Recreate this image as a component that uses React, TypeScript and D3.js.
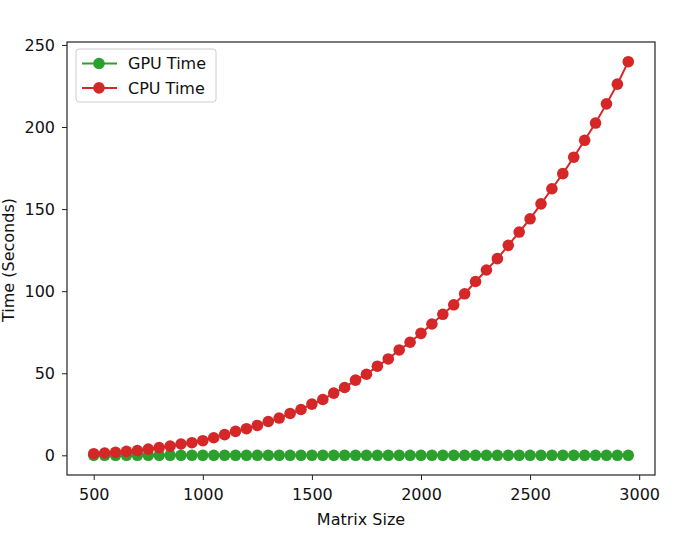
import React, { useEffect, useRef } from 'react';
import * as d3 from 'd3';

// matrix sizes 500..2950
const sizes = [
  500, 550, 600, 650, 700, 750, 800, 850, 900, 950,
  1000, 1050, 1100, 1150, 1200, 1250, 1300, 1350, 1400, 1450,
  1500, 1550, 1600, 1650, 1700, 1750, 1800, 1850, 1900, 1950,
  2000, 2050, 2100, 2150, 2200, 2250, 2300, 2350, 2400, 2450,
  2500, 2550, 2600, 2650, 2700, 2750, 2800, 2850, 2900, 2950,
];

const cpuTime = [
  1.0, 1.4, 1.8, 2.4, 2.9, 3.8, 4.7, 5.6, 6.9, 7.7,
  8.9, 10.7, 12.6, 14.6, 16.2, 18.2, 20.6, 22.7, 25.5, 27.9,
  31.2, 34.0, 37.9, 41.3, 45.8, 49.4, 54.3, 58.7, 64.2, 68.9,
  74.3, 80.0, 85.9, 91.7, 98.4, 105.9, 112.9, 119.8, 127.9, 136.0,
  144.1, 153.2, 162.4, 171.6, 181.6, 191.9, 202.4, 214.1, 226.1, 239.8,
];

const gpuTime = [
  0.02, 0.02, 0.02, 0.02, 0.02, 0.02, 0.02, 0.02, 0.02, 0.02,
  0.02, 0.02, 0.02, 0.02, 0.02, 0.02, 0.02, 0.02, 0.02, 0.02,
  0.02, 0.02, 0.02, 0.02, 0.02, 0.02, 0.02, 0.02, 0.02, 0.02,
  0.02, 0.02, 0.02, 0.02, 0.02, 0.02, 0.02, 0.02, 0.02, 0.02,
  0.02, 0.02, 0.02, 0.02, 0.02, 0.02, 0.02, 0.02, 0.02, 0.02,
];

const xTicks = [500, 1000, 1500, 2000, 2500, 3000];
const yTicks = [0, 50, 100, 150, 200, 250];

const series = [
  { name: 'GPU Time', values: gpuTime, color: '#2ca02c' },
  { name: 'CPU Time', values: cpuTime, color: '#d62728' },
];

const App = () => {
  const svgRef = useRef<SVGSVGElement>(null);

  useEffect(() => {
    const w = 680, h = 550;
    const left = 67, right = 655, top = 42, bottom = 475;
    const font = 'DejaVu Sans, sans-serif';
    const fs = '16px';

    const svg = d3.select(svgRef.current)
      .attr('width', w)
      .attr('height', h)
      .style('position', 'absolute')
      .style('left', 0)
      .style('top', 0)
      .style('background', '#fff');
    svg.selectAll('*').remove();

    // matplotlib-ish 5% margins
    const xSpan = sizes[sizes.length - 1] - sizes[0];
    const x = d3.scaleLinear()
      .domain([sizes[0] - xSpan * 0.05, sizes[sizes.length - 1] + xSpan * 0.05])
      .range([left, right]);
    const yMax = d3.max(cpuTime) as number;
    const y = d3.scaleLinear()
      .domain([-yMax * 0.05, yMax * 1.05])
      .range([bottom, top]);

    const xAxis = svg.append('g')
      .attr('transform', `translate(0, ${bottom})`)
      .call(d3.axisBottom(x).tickValues(xTicks).tickSize(5).tickPadding(9).tickFormat(d3.format('d')));
    const yAxis = svg.append('g')
      .attr('transform', `translate(${left}, 0)`)
      .call(d3.axisLeft(y).tickValues(yTicks).tickSize(5).tickPadding(7).tickFormat(d3.format('d')));

    [xAxis, yAxis].forEach(a => {
      a.select('.domain').remove();
      a.selectAll('line').attr('stroke', '#222').attr('stroke-width', 1);
      a.selectAll('text')
        .attr('fill', '#111')
        .style('font-family', font)
        .style('font-size', fs);
    });

    // lines + markers
    const line = d3.line<number>()
      .x((d, i) => x(sizes[i]))
      .y(d => y(d));

    series.forEach(s => {
      svg.append('path')
        .attr('d', line(s.values))
        .attr('fill', 'none')
        .attr('stroke', s.color)
        .attr('stroke-width', 2);
      svg.append('g')
        .selectAll('circle')
        .data(s.values)
        .join('circle')
        .attr('cx', (d, i) => x(sizes[i]))
        .attr('cy', d => y(d))
        .attr('r', 5.8)
        .attr('fill', s.color);
    });

    // frame
    svg.append('rect')
      .attr('x', left)
      .attr('y', top)
      .attr('width', right - left)
      .attr('height', bottom - top)
      .attr('fill', 'none')
      .attr('stroke', '#222')
      .attr('stroke-width', 1.2);

    // axis labels
    svg.append('text')
      .attr('x', 361)
      .attr('y', 525)
      .attr('text-anchor', 'middle')
      .attr('fill', '#111')
      .style('font-family', font)
      .style('font-size', fs)
      .text('Matrix Size');

    svg.append('text')
      .attr('transform', `translate(14, 260) rotate(-90)`)
      .attr('text-anchor', 'middle')
      .attr('fill', '#111')
      .style('font-family', font)
      .style('font-size', fs)
      .text('Time (Seconds)');

    // legend
    const lg = svg.append('g').attr('transform', 'translate(76, 49)');
    lg.append('rect')
      .attr('width', 140)
      .attr('height', 53)
      .attr('rx', 3)
      .attr('fill', '#fff')
      .attr('fill-opacity', 0.8)
      .attr('stroke', '#ccc');
    series.forEach((s, i) => {
      const yy = 14.5 + i * 24.4;
      lg.append('line')
        .attr('x1', 6).attr('x2', 41)
        .attr('y1', yy).attr('y2', yy)
        .attr('stroke', s.color)
        .attr('stroke-width', 2);
      lg.append('circle')
        .attr('cx', 23).attr('cy', yy)
        .attr('r', 5.8)
        .attr('fill', s.color);
      lg.append('text')
        .attr('x', 52)
        .attr('y', yy)
        .attr('dy', '0.35em')
        .attr('fill', '#111')
        .style('font-family', font)
        .style('font-size', fs)
        .text(s.name);
    });
  }, []);

  return (
    <div>
      <svg ref={svgRef}></svg>
    </div>
  );
};

export default App;
